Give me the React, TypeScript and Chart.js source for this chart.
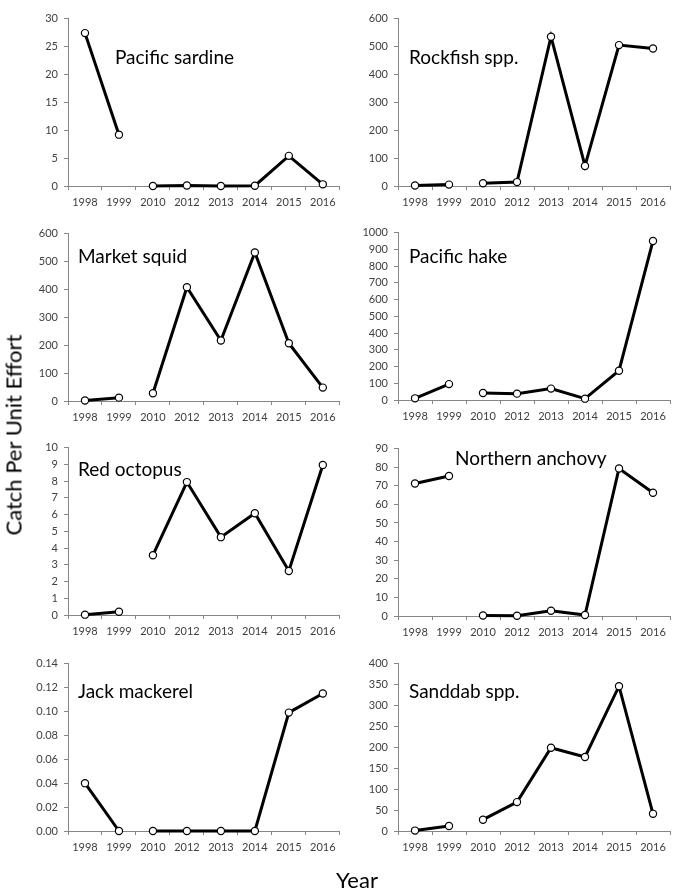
import React, { useEffect, useRef } from "react";
import { Chart, registerables } from "chart.js";

Chart.register(...registerables);

const YEARS = ["1998", "1999", "2010", "2012", "2013", "2014", "2015", "2016"];

const SARDINE = [27.4, 9.2, 0.0, 0.1, 0.0, 0.05, 5.4, 0.3];
const ROCKFISH = [2, 5, 10, 14, 535, 72, 505, 493];
const SQUID = [2, 12, 28, 408, 217, 532, 207, 48];
const HAKE = [10, 95, 42, 38, 68, 8, 175, 950];
const OCTOPUS = [0.02, 0.19, 3.57, 7.94, 4.65, 6.08, 2.63, 8.96];
const ANCHOVY = [71.2, 75.3, 0.3, 0.1, 2.8, 0.5, 79.3, 66.3];
const JACK = [0.04, 0.0, 0.0, 0.0, 0.0, 0.0, 0.099, 0.115];
const SANDDAB = [1, 12, 27, 69, 199, 177, 346, 41];

const NAMES = [
  "Pacific sardine",
  "Rockfish spp.",
  "Market squid",
  "Pacific hake",
  "Red octopus",
  "Northern anchovy",
  "Jack mackerel",
  "Sanddab spp.",
];
const SERIES = [SARDINE, ROCKFISH, SQUID, HAKE, OCTOPUS, ANCHOVY, JACK, SANDDAB];
const Y_MAX = [30, 600, 600, 1000, 10, 90, 0.14, 400];
const Y_STEP = [5, 100, 100, 100, 1, 10, 0.02, 50];
const Y_DECIMALS = [0, 0, 0, 0, 0, 0, 2, 0];

// layout (style) for each panel
const AREA_TOPS = [16, 16, 231, 230, 445, 446, 661, 661];
const TITLE_OFFSETS = [
  [47, 39],
  [11, 39],
  [10, 23],
  [11, 24],
  [10, 22],
  [57, 10],
  [10, 28],
  [11, 28],
];

const FONT = "Lato, 'Open Sans', sans-serif";
const AXIS_GRAY = "#868686";
const TICK_COLOR = "#404040";

const speciesLabel = {
  id: "speciesLabel",
  beforeDatasetsDraw(chart: any, _args: any, opts: any) {
    const { ctx, chartArea } = chart;
    ctx.save();
    ctx.font = `19px ${FONT}`;
    ctx.fillStyle = "#000";
    ctx.textBaseline = "middle";
    ctx.textAlign = "left";
    ctx.fillText(opts.text, chartArea.left + opts.dx, chartArea.top + opts.dy);
    ctx.restore();
  },
};

function Panel({ idx }: { idx: number }) {
  const ref = useRef<HTMLCanvasElement>(null);
  const col = idx % 2;
  const canvasLeft = col === 0 ? 0 : 340;
  const canvasTop = AREA_TOPS[idx] - 10;
  const yWidth = col === 0 ? 68 : 58;
  const rightPad = col === 0 ? 2 : 15;

  useEffect(() => {
    if (!ref.current) return;
    const chart = new Chart(ref.current, {
      type: "line",
      data: {
        labels: YEARS,
        datasets: [
          {
            data: SERIES[idx],
            borderColor: "#000",
            borderWidth: 3,
            pointRadius: 3.6,
            pointBorderWidth: 1.2,
            pointBackgroundColor: "#fff",
            pointBorderColor: "#000",
            tension: 0,
            clip: false as any,
            segment: {
              borderColor: (c: any) => (c.p0DataIndex === 1 ? "rgba(0,0,0,0)" : "#000"),
            },
          },
        ],
      },
      plugins: [speciesLabel],
      options: {
        responsive: false,
        animation: false,
        devicePixelRatio: 1,
        layout: { padding: { left: 0, top: 10, right: rightPad, bottom: 0 } },
        plugins: {
          legend: { display: false },
          tooltip: { enabled: false },
          speciesLabel: {
            text: NAMES[idx],
            dx: TITLE_OFFSETS[idx][0],
            dy: TITLE_OFFSETS[idx][1],
          },
        } as any,
        scales: {
          x: {
            type: "category",
            offset: true,
            grid: {
              offset: true,
              drawOnChartArea: false,
              drawTicks: true,
              tickLength: 4,
              color: AXIS_GRAY,
            },
            border: { display: true, color: AXIS_GRAY, width: 1 },
            ticks: {
              color: TICK_COLOR,
              font: { family: FONT, size: 11 },
              padding: 6,
              maxRotation: 0,
              autoSkip: false,
            },
            afterFit: (s: any) => {
              s.height = 35;
            },
          },
          y: {
            min: 0,
            max: Y_MAX[idx],
            grid: {
              drawOnChartArea: false,
              drawTicks: true,
              tickLength: 4,
              color: AXIS_GRAY,
            },
            border: { display: true, color: AXIS_GRAY, width: 1 },
            ticks: {
              stepSize: Y_STEP[idx],
              color: TICK_COLOR,
              font: { family: FONT, size: 11 },
              padding: 6,
              callback: (v: any) => Number(v).toFixed(Y_DECIMALS[idx]),
            },
            afterFit: (s: any) => {
              s.width = yWidth;
            },
          },
        },
      },
    });
    return () => chart.destroy();
  }, [idx]);

  return (
    <canvas
      ref={ref}
      width={345}
      height={215}
      style={{ position: "absolute", left: canvasLeft, top: canvasTop, width: 345, height: 215 }}
    />
  );
}

export default function App() {
  return (
    <div
      style={{
        position: "absolute",
        left: 0,
        top: 0,
        width: 685,
        height: 894,
        background: "#fff",
        overflow: "hidden",
        fontFamily: FONT,
      }}
    >
      {NAMES.map((_, i) => (
        <Panel key={i} idx={i} />
      ))}
      <div
        style={{
          position: "absolute",
          left: 13,
          top: 435,
          transform: "translate(-50%, -50%) rotate(-90deg)",
          whiteSpace: "nowrap",
          fontSize: 22,
          color: "#000",
        }}
      >
        Catch Per Unit Effort
      </div>
      <div
        style={{
          position: "absolute",
          left: 357,
          top: 879,
          transform: "translate(-50%, -50%)",
          whiteSpace: "nowrap",
          fontSize: 22,
          color: "#000",
        }}
      >
        Year
      </div>
    </div>
  );
}
